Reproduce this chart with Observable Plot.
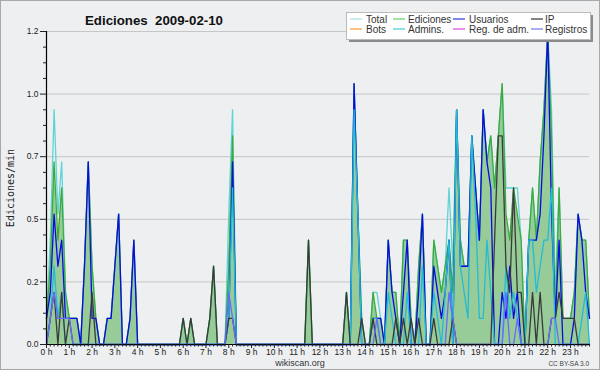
<!DOCTYPE html>
<html><head><meta charset="utf-8">
<script src="https://cdn.jsdelivr.net/npm/d3@7"></script>
<script src="https://cdn.jsdelivr.net/npm/@observablehq/plot@0.6"></script>
<style>
html,body{margin:0;padding:0;background:#eeeff1;}
#chart{width:600px;height:370px;}
</style></head><body><div id="chart"></div>
<script>
const titleText = "Ediciones  2009-02-10";
const yAxisLabel = "Ediciones/min";
const footerText = "wikiscan.org";
const licenseText = "CC BY-SA 3.0";
const hourLabels = ["0 h","1 h","2 h","3 h","4 h","5 h","6 h","7 h","8 h","9 h","10 h","11 h","12 h","13 h","14 h","15 h","16 h","17 h","18 h","19 h","20 h","21 h","22 h","23 h"];
const yTickValues = [0, 0.24, 0.48, 0.72, 0.96, 1.2];
const yTickLabels = ["0.0","0.2","0.5","0.7","1.0","1.2"];
const legendNames = ["Total","Ediciones","Usuarios","IP","Bots","Admins.","Reg. de adm.","Registros"];
const legendColors = ["#a8e0e0","#66cc66","#3333dd","#333333","#ff9933","#44ccdd","#dd44dd","#7777ee"];

// one value per 10 minutes, 6 per hour row
const total = [
 0.1,0.4,0.9,0.5,0.7,0.2,
 0.1,0.1,0.1,0,0.3,0.7,
 0.3,0.1,0,0,0.1,0.1,
 0.3,0.5,0,0,0.1,0.4,
 0,0,0,0,0,0,
 0,0,0,0,0,0,
 0.1,0,0.1,0,0,0,
 0,0.1,0.3,0,0,0,
 0.5,0.9,0,0,0,0,
 0,0,0,0,0,0,
 0,0,0,0,0,0,
 0,0,0,0.4,0,0,
 0,0,0,0,0,0,
 0,0.2,0,1.0,0.5,0.1,
 0,0,0.2,0.2,0.1,0,
 0.4,0.2,0.2,0,0.4,0.4,
 0.1,0,0.3,0.5,0,0,
 0.4,0.3,0.2,0.3,0.6,0.3,
 0.9,0.4,0.3,0.3,0.8,0.6,
 0.4,0.9,0.7,0.8,0.6,0.8,
 1.0,0.6,0.6,0.6,0.6,0.4,
 0,0.4,0.6,0.4,0.7,0.9,
 1.2,0.9,0.2,0.6,0.1,0.1,
 0.1,0.2,0.5,0.4,0.4,0.1
];
const ediciones = [
 0.1,0.3,0.7,0.4,0.6,0.2,
 0.1,0.1,0.1,0,0.3,0.7,
 0.3,0.1,0,0,0.1,0.1,
 0.3,0.5,0,0,0.1,0.4,
 0,0,0,0,0,0,
 0,0,0,0,0,0,
 0.1,0,0.1,0,0,0,
 0,0.1,0.3,0,0,0,
 0.3,0.8,0,0,0,0,
 0,0,0,0,0,0,
 0,0,0,0,0,0,
 0,0,0,0.4,0,0,
 0,0,0,0,0,0,
 0,0.2,0,1.0,0.5,0.1,
 0,0,0.2,0.1,0.1,0,
 0.4,0.2,0.2,0,0.4,0.4,
 0.1,0,0.3,0.5,0,0,
 0.4,0.3,0.2,0.3,0.4,0.2,
 0.9,0.4,0.3,0.3,0.8,0.6,
 0.4,0.9,0.7,0.8,0.6,0.8,
 1.0,0.5,0.4,0.6,0.5,0.4,
 0,0.4,0.6,0.4,0.7,0.9,
 1.2,0.8,0.1,0.6,0.1,0.1,
 0.1,0.2,0.5,0.4,0.4,0.1
];
const usuarios = [
 0.1,0.2,0.5,0.3,0.4,0.1,
 0.1,0.1,0.1,0,0.3,0.7,
 0.1,0.1,0,0,0.1,0.1,
 0.3,0.5,0,0,0.1,0.4,
 0,0,0,0,0,0,
 0,0,0,0,0,0,
 0,0,0,0,0,0,
 0,0,0,0,0,0,
 0.1,0.7,0,0,0,0,
 0,0,0,0,0,0,
 0,0,0,0,0,0,
 0,0,0,0,0,0,
 0,0,0,0,0,0,
 0,0,0,1.0,0.5,0,
 0,0,0.1,0.1,0.1,0,
 0.4,0.2,0.1,0,0.2,0.4,
 0,0,0.2,0.5,0,0,
 0.3,0.2,0.1,0.2,0.4,0,
 0.9,0.3,0.3,0.3,0.8,0.6,
 0.4,0.9,0.7,0.6,0,0,
 0.2,0.1,0.3,0.1,0.2,0,
 0,0.4,0.4,0.4,0.5,0.8,
 1.2,0.5,0.1,0.4,0,0,
 0,0.1,0.5,0.4,0.2,0.1
];
const ip = [
 0,0.1,0.2,0,0.2,0,
 0.1,0,0,0,0,0,
 0.2,0,0,0,0,0,
 0,0,0,0,0,0,
 0,0,0,0,0,0,
 0,0,0,0,0,0,
 0.1,0,0.1,0,0,0,
 0,0.1,0.3,0,0,0,
 0.1,0.1,0,0,0,0,
 0,0,0,0,0,0,
 0,0,0,0,0,0,
 0,0,0,0.4,0,0,
 0,0,0,0,0,0,
 0,0.2,0,0,0,0.1,
 0,0,0.1,0,0,0,
 0,0,0.1,0,0.1,0,
 0.1,0,0.1,0,0,0,
 0.1,0,0,0,0,0.1,
 0,0,0,0,0,0,
 0,0,0,0,0.4,0.8,
 0.8,0.3,0.2,0.6,0.2,0.2,
 0,0,0.2,0,0.2,0,
 0,0.1,0.1,0.2,0.1,0.1,
 0.1,0.1,0,0,0,0
];
const admins = [
 0,0.1,0.3,0.1,0.2,0,
 0,0,0,0,0,0,
 0,0,0,0,0,0,
 0,0,0,0,0,0,
 0,0,0,0,0,0,
 0,0,0,0,0,0,
 0,0,0,0,0,0,
 0,0,0,0,0,0,
 0.1,0.6,0,0,0,0,
 0,0,0,0,0,0,
 0,0,0,0,0,0,
 0,0,0,0,0,0,
 0,0,0,0,0,0,
 0,0,0,0.9,0.5,0,
 0,0,0.1,0.1,0,0,
 0.2,0.1,0,0,0,0.2,
 0,0,0,0.3,0,0,
 0.2,0.1,0,0.2,0.4,0,
 0.9,0.3,0.2,0.1,0.8,0.5,
 0.1,0.1,0.4,0.2,0,0,
 0,0.3,0.1,0.2,0.1,0,
 0,0.4,0.4,0.2,0.3,0.4,
 0.4,0.6,0,0,0,0,
 0,0,0,0.1,0.2,0
];
const registros = [
 0,0.1,0.2,0.1,0.1,0.1,
 0.1,0,0,0,0,0,
 0,0,0,0,0,0,
 0,0,0,0,0,0,
 0,0,0,0,0,0,
 0,0,0,0,0,0,
 0,0,0,0,0,0,
 0,0,0,0,0,0,
 0.2,0.1,0,0,0,0,
 0,0,0,0,0,0,
 0,0,0,0,0,0,
 0,0,0,0,0,0,
 0,0,0,0,0,0,
 0,0,0,0,0,0,
 0,0,0,0.1,0,0,
 0,0,0,0,0,0,
 0,0,0,0,0,0,
 0,0,0,0,0.2,0.1,
 0,0,0,0,0,0,
 0,0,0,0,0,0,
 0,0.2,0,0,0.1,0,
 0,0,0,0,0,0,
 0,0.1,0.1,0,0,0,
 0,0,0,0,0,0
];

const N = total.length;
const rows = total.map((v, i) => ({
  t: i / 6, total: v, ediciones: ediciones[i], usuarios: usuarios[i],
  ip: ip[i], admins: admins[i], registros: registros[i]
}));
const yLabelMap = new Map(yTickValues.map((v, i) => [v, yTickLabels[i]]));
const hours = d3.range(24);
const minorX = d3.range(N).filter(i => i % 6 !== 0).map(i => i / 6);
const minorY = d3.range(1, 20).filter(k => k % 4 !== 0).map(k => k * 0.06);

const lineSpecs = [
  ["total", "#5fd4d4"],
  ["ediciones", "#3daa3d"],
  ["usuarios", "#0a0ae6"],
  ["admins", "#22bcd8"],
  ["ip", "#3a3a3a"],
  ["registros", "#6a6aff"]
];

const plot = Plot.plot({
  width: 600, height: 370,
  marginLeft: 46, marginRight: 11, marginTop: 31, marginBottom: 26,
  style: {background: "#eeeff1", fontFamily: "Liberation Sans, Arial, sans-serif", overflow: "visible"},
  x: {domain: [0, (N - 1) / 6]},
  y: {domain: [0, 1.2]},
  marks: [
    Plot.ruleY(yTickValues.slice(1), {stroke: "#c6c6c6", strokeWidth: 1}),
    Plot.areaY(rows, {x: "t", y: "ediciones", fill: "#97cb97"}),
    ...lineSpecs.map(([k, c]) => Plot.lineY(rows, {x: "t", y: k, stroke: c, strokeWidth: 1.3})),
    Plot.ruleX([0], {stroke: "#000", strokeWidth: 1.2}),
    Plot.ruleY([0], {stroke: "#000", strokeWidth: 1.2}),
    Plot.axisY({ticks: yTickValues, tickSize: 6, tickPadding: 2, tickFormat: d => yLabelMap.get(d), fontSize: 8.5, color: "#222", label: null}),
    Plot.axisY({ticks: minorY, tickSize: 3, tickFormat: () => "", color: "#222", label: null}),
    Plot.axisX({ticks: hours, tickSize: 4, tickPadding: 0, tickFormat: d => hourLabels[d], fontSize: 8.5, color: "#222", label: null}),
    Plot.axisX({ticks: minorX, tickSize: 2.5, tickFormat: () => "", color: "#222", label: null})
  ]
});
document.getElementById("chart").appendChild(plot);

const svg = d3.select(plot);
svg.append("rect").attr("x", 0.5).attr("y", 0.5).attr("width", 599).attr("height", 369)
  .attr("fill", "none").attr("stroke", "#a8a8a8");
svg.append("text").attr("x", 85).attr("y", 25).attr("text-anchor", "start").attr("font-family", "Liberation Sans, Arial, sans-serif")
  .attr("font-weight", "bold").attr("font-size", 13).attr("fill", "#111")
  .style("white-space", "pre").attr("textLength", 138).attr("lengthAdjust", "spacingAndGlyphs").text(titleText);
svg.append("text").attr("transform", "translate(14,188) rotate(-90)").attr("text-anchor", "middle")
  .attr("font-family", "DejaVu Sans Mono, monospace").attr("font-size", 10).attr("fill", "#222").text(yAxisLabel);
svg.append("text").attr("x", 300).attr("y", 366).attr("text-anchor", "middle")
  .attr("font-family", "Liberation Sans, Arial, sans-serif").attr("font-size", 9).attr("fill", "#333").text(footerText);
svg.append("text").attr("x", 589).attr("y", 366).attr("text-anchor", "end")
  .attr("font-family", "Liberation Sans, Arial, sans-serif").attr("font-size", 6.5).attr("fill", "#444").text(licenseText);

// legend
const lg = svg.append("g");
lg.append("rect").attr("x", 349).attr("y", 15).attr("width", 244).attr("height", 27).attr("fill", "#8a8a8a");
lg.append("rect").attr("x", 346.5).attr("y", 12.5).attr("width", 244).attr("height", 27).attr("fill", "#fff").attr("stroke", "#bbb");
const colLine = [350, 393, 453, 531], colText = [366, 408, 469, 545], rowY = [19, 29];
legendNames.forEach((name, i) => {
  const c = i % 4, r = Math.floor(i / 4);
  lg.append("line").attr("x1", colLine[c]).attr("x2", colLine[c] + 12).attr("y1", rowY[r]).attr("y2", rowY[r])
    .attr("stroke", legendColors[i]).attr("stroke-width", 1.2);
  lg.append("text").attr("x", colText[c]).attr("y", rowY[r] + 3.5).attr("text-anchor", "start")
    .attr("font-family", "Liberation Sans, Arial, sans-serif")
    .attr("font-size", 10).attr("fill", "#333").text(name);
});
</script></body></html>
